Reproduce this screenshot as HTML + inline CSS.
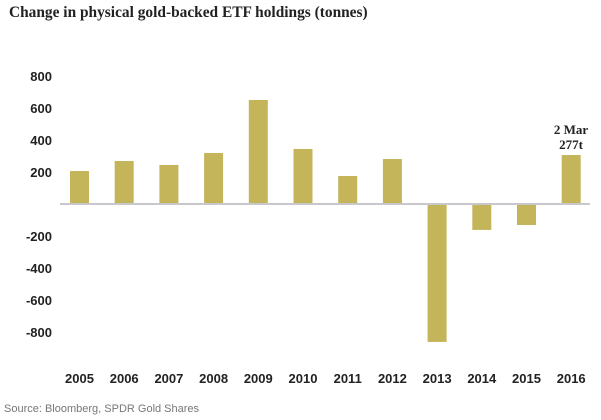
<!DOCTYPE html>
<html><head><meta charset="utf-8"><style>
body{margin:0;background:#fff;width:601px;height:420px;overflow:hidden}
svg{display:block}
.t{font-family:"Liberation Sans",sans-serif;font-size:13px;fill:#222}
</style></head><body>
<svg id="c" width="601" height="420">
<text x="9" y="17" font-family="Liberation Serif,serif" font-size="15.4" font-weight="bold" fill="#222">Change in physical gold-backed ETF holdings (tonnes)</text>
<text x="4" y="412" font-family="Liberation Sans,sans-serif" font-size="11" fill="#777">Source: Bloomberg, SPDR Gold Shares</text>
<g id="bars"></g>
<line x1="60" y1="204" x2="590" y2="204" stroke="#c8c8cc" stroke-width="2"/>
<text x="571" y="134" text-anchor="middle" font-family="Liberation Serif,serif" font-size="13" font-weight="bold" fill="#222">2 Mar</text>
<text x="571" y="149" text-anchor="middle" font-family="Liberation Serif,serif" font-size="13" font-weight="bold" fill="#222">277t</text>
</svg>
<script>
const years=["2005","2006","2007","2008","2009","2010","2011","2012","2013","2014","2015","2016"];
const values=[206,269,244,319,650,344,175,281,-862,-162,-131,306];
const yTicks=[800,600,400,200,-200,-400,-600,-800];
const ns="http://www.w3.org/2000/svg";
const svg=document.getElementById('c'),g=document.getElementById('bars');
function y(v){return 204-v*0.16;}
function x(i){return 79.5+i*44.7;}
yTicks.forEach(v=>{const t=document.createElementNS(ns,'text');
t.setAttribute('x',52);t.setAttribute('y',y(v)+5);t.setAttribute('text-anchor','end');t.setAttribute('class','t');t.setAttribute('font-weight','bold');t.textContent=v;


svg.appendChild(t);});
values.forEach((v,i)=>{const r=document.createElementNS(ns,'rect');
r.setAttribute('x',x(i)-9.5);r.setAttribute('width',19);
r.setAttribute('y',Math.min(y(v),y(0)));r.setAttribute('height',Math.abs(y(v)-y(0)));r.setAttribute('fill','#c4b45a');


g.appendChild(r);
const t=document.createElementNS(ns,'text');
t.setAttribute('x',x(i));t.setAttribute('y',383);t.setAttribute('text-anchor','middle');t.setAttribute('class','t');t.setAttribute('font-weight','bold');t.textContent=years[i];


svg.appendChild(t);});
</script>
</body></html>
